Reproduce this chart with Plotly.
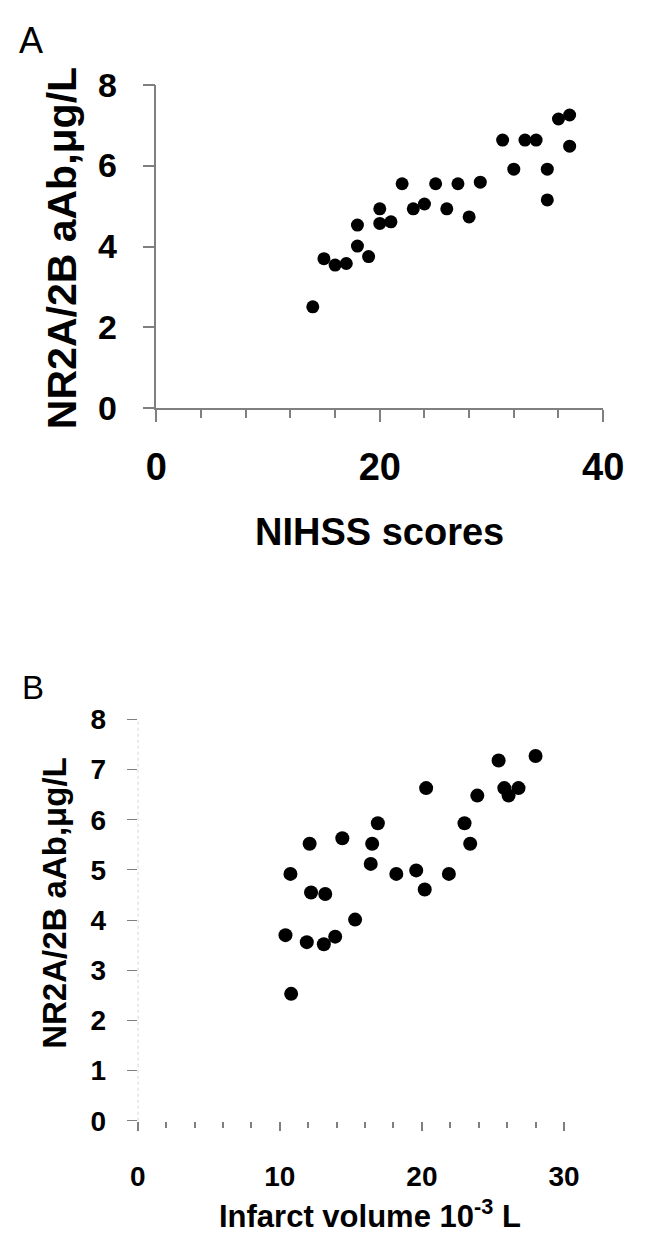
import plotly.graph_objects as go

# Panel A data
nihss = [14, 15, 16, 17, 18, 18, 19, 20, 20, 21, 22, 23, 24, 25, 26, 27, 28, 29,
         31, 32, 33, 34, 35, 35, 36, 37, 37]
aab_a = [2.51, 3.70, 3.54, 3.58, 4.53, 4.01, 3.75, 4.93, 4.57, 4.61, 5.55, 4.93,
         5.05, 5.55, 4.93, 5.55, 4.73, 5.59, 6.63, 5.91, 6.63, 6.63, 5.91, 5.15,
         7.15, 7.25, 6.48]

# Panel B data
volume = [10.4, 10.75, 10.8, 11.9, 12.1, 12.2, 13.1, 13.2, 13.9, 14.4, 15.3, 16.4,
          16.5, 16.9, 18.2, 19.6, 20.2, 20.3, 21.9, 23.0, 23.4, 23.9, 25.4, 25.8,
          26.1, 26.8, 28.0]
aab_b = [3.70, 4.92, 2.53, 3.56, 5.52, 4.55, 3.52, 4.52, 3.67, 5.63, 4.01, 5.12,
         5.52, 5.93, 4.92, 4.99, 4.61, 6.63, 4.92, 5.93, 5.52, 6.48, 7.18, 6.63,
         6.48, 6.63, 7.27]

W, H = 646, 1239
FONT = "Liberation Sans, Arial, Helvetica, sans-serif"
AXC = "#7f7f7f"


def px(x):
    return x / W


def py(y):
    return 1 - y / H


fig = go.Figure()
fig.add_trace(go.Scatter(x=nihss, y=aab_a, mode="markers", xaxis="x", yaxis="y",
                         marker=dict(color="black", size=13), showlegend=False))
fig.add_trace(go.Scatter(x=volume, y=aab_b, mode="markers", xaxis="x2", yaxis="y2",
                         marker=dict(color="black", size=14), showlegend=False))

fig.update_layout(
    width=W, height=H, margin=dict(l=0, r=0, t=0, b=0),
    paper_bgcolor="white", plot_bgcolor="white",
    font=dict(family=FONT, color="black"),
    xaxis=dict(domain=[px(153), px(623)], range=[0, 40], anchor="y",
               showgrid=False, zeroline=False, showline=True, linecolor=AXC, linewidth=1.5,
               ticks="outside", tickcolor=AXC, tickwidth=1.5, ticklen=12, dtick=20, tick0=0,
               minor=dict(dtick=4, ticks="outside", ticklen=8, tickcolor=AXC, tickwidth=1.5, showgrid=False),
               tickfont=dict(size=38, weight="bold", family=FONT), ticklabelstandoff=12),
    yaxis=dict(domain=[py(401.7), py(67.7)], range=[0, 8], anchor="x",
               showgrid=False, zeroline=False, showline=True, linecolor=AXC, linewidth=1.5,
               ticks="outside", tickcolor=AXC, tickwidth=1.5, ticklen=12, dtick=2, tick0=0,
               tickfont=dict(size=34, weight="bold", family=FONT), ticklabelstandoff=19),
    xaxis2=dict(domain=[px(133.3), px(581.8)], range=[0, 30], anchor="y2",
                showgrid=False, zeroline=False, showline=False,
                ticks="outside", tickcolor=AXC, tickwidth=1.5, ticklen=9, dtick=10, tick0=0,
                minor=dict(dtick=2, ticks="outside", ticklen=6, tickcolor=AXC, tickwidth=1.5, showgrid=False),
                tickfont=dict(size=28, weight="bold", family=FONT), ticklabelstandoff=22),
    yaxis2=dict(domain=[py(1136.7), py(722.5)], range=[0, 8], anchor="x2",
                showgrid=False, zeroline=False, showline=False,
                ticks="outside", tickcolor=AXC, tickwidth=1.2, ticklen=10, dtick=1, tick0=0,
                tickfont=dict(size=28, weight="bold", family=FONT), ticklabelstandoff=15),
)

# dotted y-axis line for panel B
fig.add_shape(type="line", xref="x2", yref="y2 domain", x0=0, x1=0, y0=0, y1=1,
              line=dict(color="#c8c8c8", width=1.5, dash="dot"))

annots = [
    dict(text="A", x=px(21), y=py(22), size=36, weight="normal", angle=0, ya="middle"),
    dict(text="B", x=px(23), y=py(690), size=33, weight="normal", angle=0, ya="middle"),
    dict(text="NIHSS scores", x=px(388), y=py(529), size=38, weight="bold", angle=0, ya="middle"),
    dict(text="NR2A/2B aAb,\u03bcg/L", x=px(53), y=py(236), size=41, weight="bold", angle=-90, ya="middle"),
    dict(text="Infarct volume 10<sup>-3</sup> L", x=px(378), y=py(1233), size=31, weight="bold", angle=0, ya="middle"),
    dict(text="NR2A/2B aAb,\u03bcg/L", x=px(45), y=py(912), size=33, weight="bold", angle=-90, ya="middle"),
]
for a in annots:
    fig.add_annotation(text=a["text"], x=a["x"], y=a["y"], xref="paper", yref="paper",
                       xanchor="center", yanchor=a["ya"], showarrow=False,
                       textangle=a["angle"],
                       font=dict(size=a["size"], weight=a["weight"], family=FONT, color="black"))

fig.write_html("out.html")
